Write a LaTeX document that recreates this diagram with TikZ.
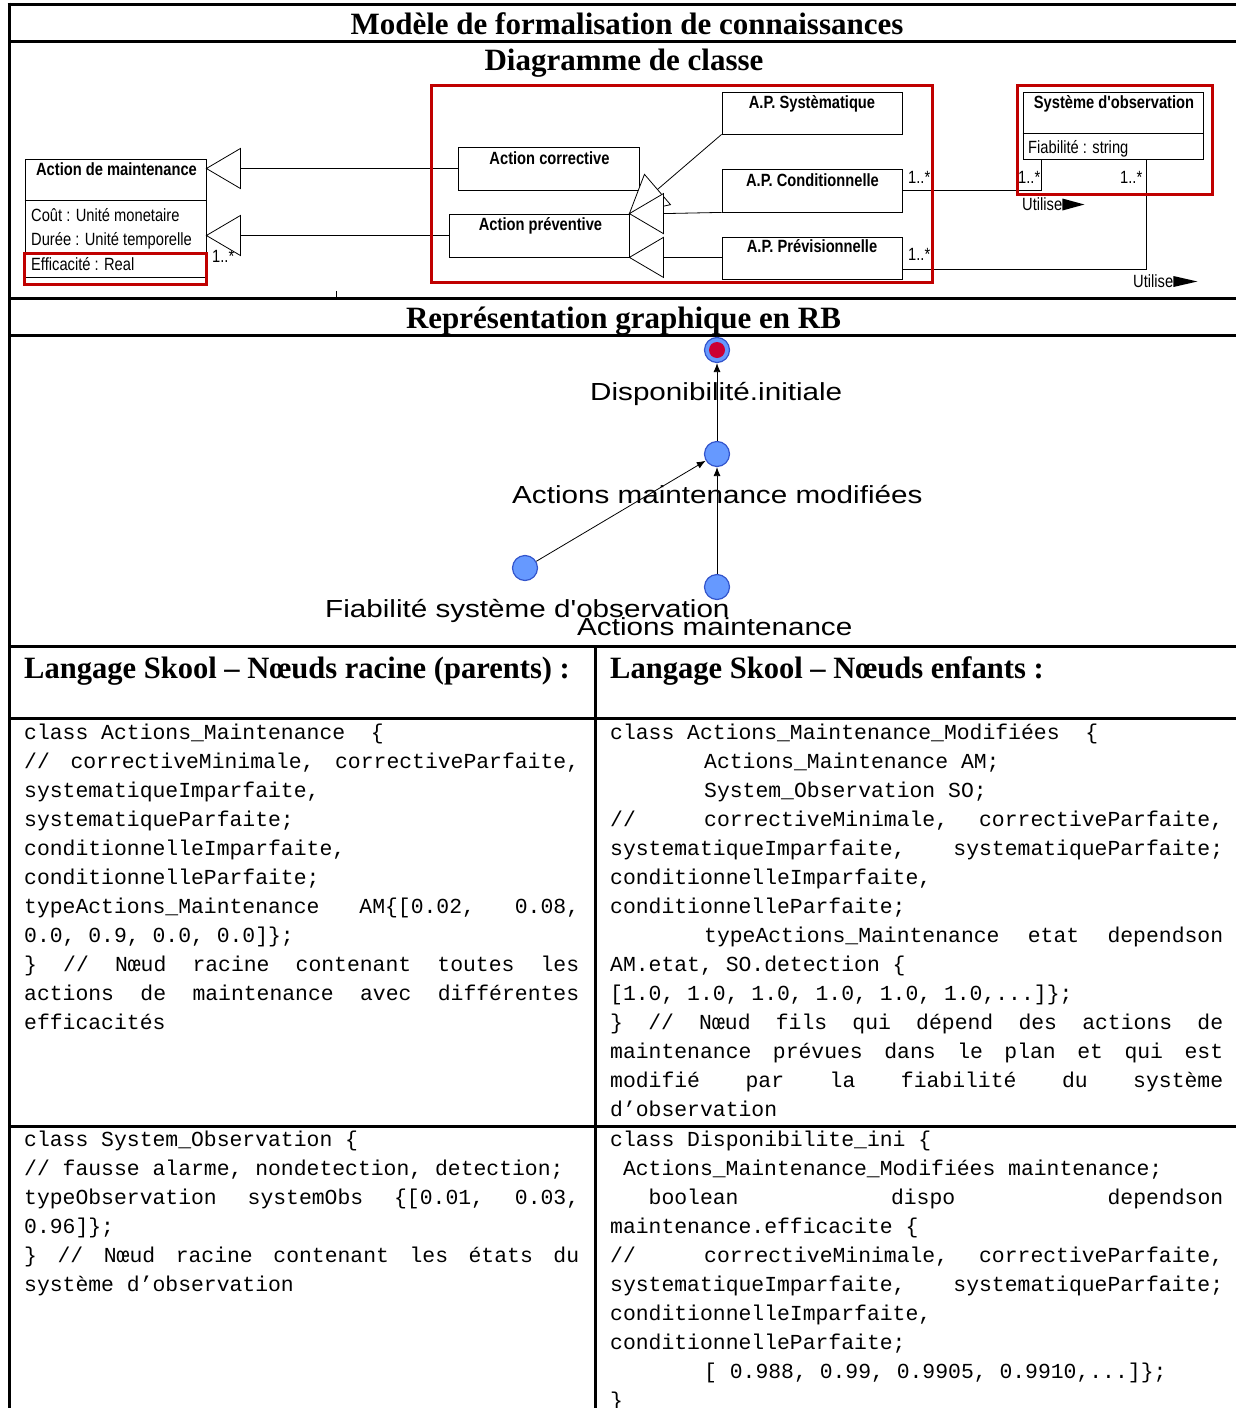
\documentclass[tikz,border=0pt]{standalone}
\usepackage{fontspec}
\usepackage{graphicx}
\setmainfont{Liberation Serif}
\setsansfont{Liberation Sans}
\setmonofont{Liberation Mono}
\newfontfamily\plainsans{Liberation Sans}
\usetikzlibrary{calc,arrows.meta}
\definecolor{umlred}{RGB}{192,0,0}
\definecolor{rbblue}{RGB}{102,153,255}
\definecolor{rbedge}{RGB}{51,85,204}
\definecolor{rbred}{RGB}{204,0,51}
\newcommand\clsfont{\plainsans\fontsize{17.7}{20}\selectfont}
\newcommand\ctxt[1]{\scalebox{0.83}[1]{\clsfont #1}}
\newcommand\cbtxt[1]{\scalebox{0.83}[1]{\clsfont\bfseries #1}}
\newcommand\rbtxt[1]{\scalebox{1.2}[1]{\plainsans\fontsize{24.7}{28}\selectfont #1}}
\newcommand\hdtext[1]{{\fontsize{31}{34}\selectfont\bfseries #1}}
\newcommand\codefont{\ttfamily\fontsize{21.4}{29}\selectfont}
\newcommand\JJ{\hfill}
\newcommand\jline[2]{\hbox to #1{#2}}
\newcommand\tabsl{\makebox[94pt][l]{//}}
\tikzset{
  tabrule/.style={line width=3pt},
  clsbox/.style={draw, line width=0.8pt, inner sep=0pt},
  gentri/.style={draw, line width=0.8pt, fill=white},
  assoc/.style={line width=0.8pt},
  redbox/.style={draw=umlred, line width=3pt},
  ctext/.style={inner sep=0pt, anchor=base},
  ctextw/.style={inner sep=0pt, anchor=base west},
  rbnode/.style={circle, minimum size=25pt, inner sep=0pt, fill=rbblue, draw=rbedge, line width=1.2pt},
  rbarrow/.style={-{Latex[length=9pt,width=7pt]}, line width=0.8pt},
  rblabel/.style={inner sep=0pt, anchor=base west},
  codeline/.style={anchor=base west, inner sep=0pt, font=\codefont},
  hdline/.style={inner sep=0pt}
}
\begin{document}
\begin{tikzpicture}[x=1pt,y=-1pt]
\useasboundingbox (0,0) rectangle (1235,1408);
% table rules
\draw[tabrule] (7.5,4) -- (1240,4);
\draw[tabrule] (9,2.5) -- (9,1412);
\draw[tabrule] (9,41) -- (1240,41);
\draw[tabrule] (9,298) -- (1240,298);
\draw[tabrule] (9,335) -- (1240,335);
\draw[tabrule] (9,646.5) -- (1240,646.5);
\draw[tabrule] (9,718) -- (1240,718);
\draw[tabrule] (9,1126) -- (1240,1126);
\draw[tabrule] (595,646.5) -- (595,1412);
\draw[line width=0.8pt] (336,291) -- (336,298);

% titles
\node[hdline, anchor=base] (t0) at (627,34) {\hdtext{Modèle de formalisation de connaissances}};
\node[hdline, anchor=base] (t1) at (624,70) {\hdtext{Diagramme de classe}};
\node[hdline, anchor=base] (t2) at (623.5,328) {\hdtext{Représentation graphique en RB}};
\node[hdline, anchor=base west] (t3) at (24,678) {\scalebox{0.985}[1]{\hdtext{Langage Skool – Nœuds racine (parents) :}}};
\node[hdline, anchor=base west] (t4) at (610,678) {\scalebox{0.985}[1]{\hdtext{Langage Skool – Nœuds enfants :}}};

% class diagram boxes
\node[clsbox, minimum width=181pt, minimum height=118pt] (am) at (115.5,218) {};
\draw[line width=0.8pt] ($(am.north west)+(0,42)$) -- ($(am.north east)+(0,42)$);
\node[clsbox, minimum width=181pt, minimum height=43pt] (ac) at (548.5,168.5) {};
\node[clsbox, minimum width=180pt, minimum height=43pt] (ap) at (539,235.5) {};
\node[clsbox, minimum width=180pt, minimum height=42pt] (aps) at (812,113) {};
\node[clsbox, minimum width=180pt, minimum height=43pt] (apc) at (812,190.5) {};
\node[clsbox, minimum width=180pt, minimum height=42pt] (app) at (812,258) {};
\node[clsbox, minimum width=180pt, minimum height=67pt] (so) at (1113,125.5) {};
\draw[line width=0.8pt] ($(so.north west)+(0,42)$) -- ($(so.north east)+(0,42)$);

% class texts
\node[ctext] (amt) at (116.5,175.5) {\cbtxt{Action de maintenance}};
\node[ctextw] (ama1) at (31,221) {\ctxt{Coût : Unité monetaire}};
\node[ctextw] (ama2) at (31,245.5) {\ctxt{Durée : Unité temporelle}};
\node[ctextw] (ama3) at (31,270.5) {\ctxt{Efficacité : Real}};
\node[ctextw] (m1) at (212,262) {\ctxt{1..*}};
\node[ctext] (act) at (549.5,164) {\cbtxt{Action corrective}};
\node[ctext] (apt) at (540.5,230.5) {\cbtxt{Action préventive}};
\node[ctext] (apst) at (812,108) {\cbtxt{A.P. Systèmatique}};
\node[ctext] (apct) at (812.5,186) {\cbtxt{A.P. Conditionnelle}};
\node[ctext] (appt) at (812,252.5) {\cbtxt{A.P. Prévisionnelle}};
\node[ctextw] (m2) at (908,183) {\ctxt{1..*}};
\node[ctextw] (m3) at (908,260) {\ctxt{1..*}};
\node[ctextw] (m4) at (1018,183) {\ctxt{1..*}};
\node[ctextw] (m5) at (1120,183) {\ctxt{1..*}};
\node[ctext] (sot) at (1114,108) {\cbtxt{Système d'observation}};
\node[ctextw] (soa) at (1028,153) {\ctxt{Fiabilité : string}};
\node[ctextw] (u1) at (1022,210.5) {\ctxt{Utilise}};
\node[ctextw] (u2) at (1133,287) {\ctxt{Utilise}};
\fill (u1.base east) ++(0,-12) -- ++(22,6) -- ++(-22,6) -- cycle;
\fill (u2.base east) ++(0,-11) -- ++(24,5.5) -- ++(-24,5.5) -- cycle;

% generalisations to Action de maintenance
\coordinate (g1) at (am.east |- ac.west);
\coordinate (g2) at (am.east |- ap.west);
\draw[assoc] (ac.west) -- ($(g1)+(34,0)$);
\draw[assoc] (ap.west) -- ($(g2)+(34,0)$);
\draw[gentri] (g1) -- ++(34,-20) -- ++(0,40) -- cycle;
\draw[gentri] (g2) -- ++(34,-20) -- ++(0,40) -- cycle;

% generalisations to Action preventive
\coordinate (ba) at ($(ap.north east)!37pt!(aps.south west)$);
\coordinate (va1) at ($(ba)!20pt!90:(aps.south west)$);
\coordinate (va2) at ($(ba)!20pt!-90:(aps.south west)$);
\draw[assoc] (ba) -- (aps.south west);
\draw[gentri] (ap.north east) -- (va1) -- (va2) -- cycle;
\draw[assoc] ($(ap.north east)+(34,0)$) -- (apc.south west);
\draw[gentri] (ap.north east) -- ++(34,-20) -- ++(0,40) -- cycle;
\draw[assoc] ($(ap.south east)+(34,0)$) -- (ap.south east -| app.west);
\draw[gentri] (ap.south east) -- ++(34,-20) -- ++(0,40) -- cycle;

% associations
\coordinate (s1) at ($(so.south west)+(19,0)$);
\coordinate (s2) at ($(so.south east)+(-57,0)$);
\draw[assoc] (apc.east) -| (s1);
\draw[assoc] ($(app.east)+(0,11)$) -| (s2);

% red highlight boxes
\draw[redbox] (431,85) rectangle (932,282);
\draw[redbox] (1017,85) rectangle (1212,194);
\draw[redbox] (24,253) rectangle (206,284);

% RB graph
\node[rbnode] (disp) at (717,350) {};
\fill[rbred] (disp.center) circle[radius=8pt];
\node[rbnode] (amm) at (717,454) {};
\node[rbnode] (fso) at (525,568) {};
\node[rbnode] (amn) at (717,587) {};
\draw[rbarrow] (fso) -- (amm);
\draw[rbarrow] (amn) -- (amm);
\draw[rbarrow] (amm) -- (disp);
\node[rblabel] (ldisp) at (590,400) {\rbtxt{Disponibilité.initiale}};
\begin{scope}
\clip (0,340) rectangle (927,640);
\node[rblabel] (lamm) at (512,503) {\rbtxt{Actions maintenance modifiées}};
\end{scope}
\node[rblabel] (lfso) at (325,617) {\rbtxt{Fiabilité système d'observation}};
\node[rblabel] (lamn) at (577,635) {\rbtxt{Actions maintenance}};

% code, row 1 left
\node[codeline] (cl0) at (24,739) {class Actions\_Maintenance\ \ \{};
\node[codeline] (cl1) at (24,768) {\jline{555pt}{//\JJ correctiveMinimale,\JJ correctiveParfaite,}};
\node[codeline] (cl2) at (24,797) {systematiqueImparfaite,};
\node[codeline] (cl3) at (24,826) {systematiqueParfaite;};
\node[codeline] (cl4) at (24,855) {conditionnelleImparfaite,};
\node[codeline] (cl5) at (24,884) {conditionnelleParfaite;};
\node[codeline] (cl6) at (24,913) {\jline{555pt}{typeActions\_Maintenance\JJ AM\{[0.02,\JJ 0.08,}};
\node[codeline] (cl7) at (24,942) {0.0, 0.9, 0.0, 0.0]\};};
\node[codeline] (cl8) at (24,971) {\jline{555pt}{\}\JJ//\JJ Nœud\JJ racine\JJ contenant\JJ toutes\JJ les}};
\node[codeline] (cl9) at (24,1000) {\jline{555pt}{actions\JJ de\JJ maintenance\JJ avec\JJ différentes}};
\node[codeline] (cl10) at (24,1029) {efficacités};

% code, row 1 right
\node[codeline] (cr0) at (610,739) {class Actions\_Maintenance\_Modifiées\ \ \{};
\node[codeline] (cr1) at (704,768) {Actions\_Maintenance AM;};
\node[codeline] (cr2) at (704,797) {System\_Observation SO;};
\node[codeline] (cr3) at (610,826) {\jline{613pt}{\tabsl correctiveMinimale,\JJ correctiveParfaite,}};
\node[codeline] (cr4) at (610,855) {\jline{613pt}{systematiqueImparfaite,\JJ systematiqueParfaite;}};
\node[codeline] (cr5) at (610,884) {conditionnelleImparfaite,};
\node[codeline] (cr6) at (610,913) {conditionnelleParfaite;};
\node[codeline] (cr7) at (704,942) {\jline{519pt}{typeActions\_Maintenance\JJ etat\JJ dependson}};
\node[codeline] (cr8) at (610,971) {AM.etat, SO.detection \{};
\node[codeline] (cr9) at (610,1000) {\relax[1.0, 1.0, 1.0, 1.0, 1.0, 1.0,...]\};};
\node[codeline] (cr10) at (610,1029) {\jline{613pt}{\}\JJ//\JJ Nœud\JJ fils\JJ qui\JJ dépend\JJ des\JJ actions\JJ de}};
\node[codeline] (cr11) at (610,1058) {\jline{613pt}{maintenance\JJ prévues\JJ dans\JJ le\JJ plan\JJ et\JJ qui\JJ est}};
\node[codeline] (cr12) at (610,1087) {\jline{613pt}{modifié\JJ par\JJ la\JJ fiabilité\JJ du\JJ système}};
\node[codeline] (cr13) at (610,1116) {d’observation};

% code, row 2 left
\node[codeline] (dl0) at (24,1146) {class System\_Observation \{};
\node[codeline] (dl1) at (24,1175) {// fausse alarme, nondetection, detection;};
\node[codeline] (dl2) at (24,1204) {\jline{555pt}{typeObservation\JJ systemObs\JJ \{[0.01,\JJ 0.03,}};
\node[codeline] (dl3) at (24,1233) {0.96]\};};
\node[codeline] (dl4) at (24,1262) {\jline{555pt}{\}\JJ//\JJ Nœud\JJ racine\JJ contenant\JJ les\JJ états\JJ du}};
\node[codeline] (dl5) at (24,1291) {système d’observation};

% code, row 2 right
\node[codeline] (dr0) at (610,1146) {class Disponibilite\_ini \{};
\node[codeline] (dr1) at (622.8,1175) {Actions\_Maintenance\_Modifiées maintenance;};
\node[codeline] (dr2) at (648.5,1204) {\jline{574.5pt}{boolean\JJ dispo\JJ dependson}};
\node[codeline] (dr3) at (610,1233) {maintenance.efficacite \{};
\node[codeline] (dr4) at (610,1262) {\jline{613pt}{\tabsl correctiveMinimale,\JJ correctiveParfaite,}};
\node[codeline] (dr5) at (610,1291) {\jline{613pt}{systematiqueImparfaite,\JJ systematiqueParfaite;}};
\node[codeline] (dr6) at (610,1320) {conditionnelleImparfaite,};
\node[codeline] (dr7) at (610,1349) {conditionnelleParfaite;};
\node[codeline] (dr8) at (704,1378) {\relax[ 0.988, 0.99, 0.9905, 0.9910,...]\};};
\node[codeline] (dr9) at (610,1407) {\}};
\end{tikzpicture}
\end{document}
